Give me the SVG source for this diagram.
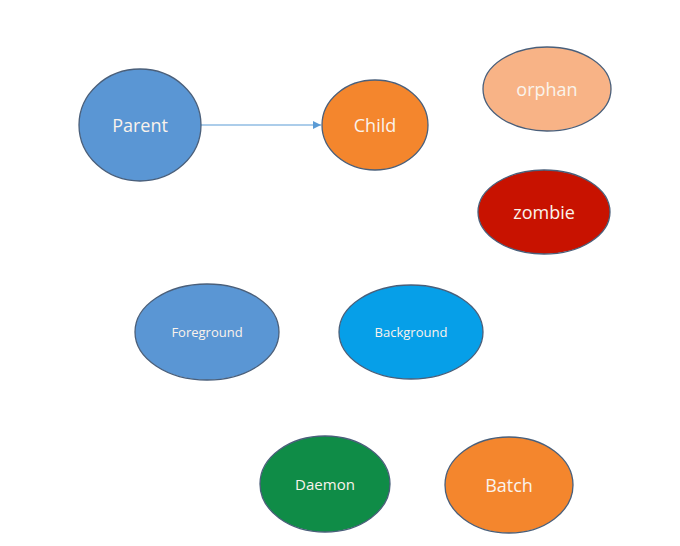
<svg xmlns="http://www.w3.org/2000/svg" width="680" height="546" viewBox="0 0 680 546">
<defs>
<style>
.n{stroke:#4A5F7A;stroke-width:1.3}
.t{font-family:"Open Sans","Liberation Sans",sans-serif;fill:#FAF3EC;text-anchor:middle;dominant-baseline:central}
.c{stroke:#5B9BD5;stroke-width:1.2;fill:none}
</style>
<marker id="ah" viewBox="0 0 10 10" refX="10" refY="5" markerWidth="8" markerHeight="8" markerUnits="userSpaceOnUse" orient="auto"><path d="M0,0L10,5L0,10z" fill="#5B9BD5"/></marker>
</defs>
<rect width="680" height="546" fill="#fff"/>
<g id="connectors">
<line class="c" x1="201" y1="125" x2="321" y2="125" marker-end="url(#ah)"/>
</g>
<g id="parent"><ellipse class="n" cx="140" cy="125" rx="61" ry="56" fill="#5A96D4"/><text class="t" x="140" y="125" font-size="18">Parent</text></g>
<g id="child"><ellipse class="n" cx="375" cy="125" rx="53" ry="45" fill="#F4862D"/><text class="t" x="375" y="125" font-size="18">Child</text></g>
<g id="orphan"><ellipse class="n" cx="547" cy="89" rx="64" ry="42" fill="#F8B386"/><text class="t" x="547" y="89" font-size="18">orphan</text></g>
<g id="zombie"><ellipse class="n" cx="544" cy="212" rx="66" ry="42" fill="#C81200"/><text class="t" x="544" y="212" font-size="18">zombie</text></g>
<g id="foreground"><ellipse class="n" cx="207" cy="332" rx="72" ry="48" fill="#5A96D4"/><text class="t" x="207" y="332" font-size="13">Foreground</text></g>
<g id="background"><ellipse class="n" cx="411" cy="332" rx="72" ry="47" fill="#069FE8"/><text class="t" x="411" y="332" font-size="13">Background</text></g>
<g id="daemon"><ellipse class="n" cx="325" cy="484" rx="65" ry="48" fill="#0F8C47"/><text class="t" x="325" y="484" font-size="15">Daemon</text></g>
<g id="batch"><ellipse class="n" cx="509" cy="485" rx="64" ry="48" fill="#F4862D"/><text class="t" x="509" y="485" font-size="18">Batch</text></g>
</svg>
